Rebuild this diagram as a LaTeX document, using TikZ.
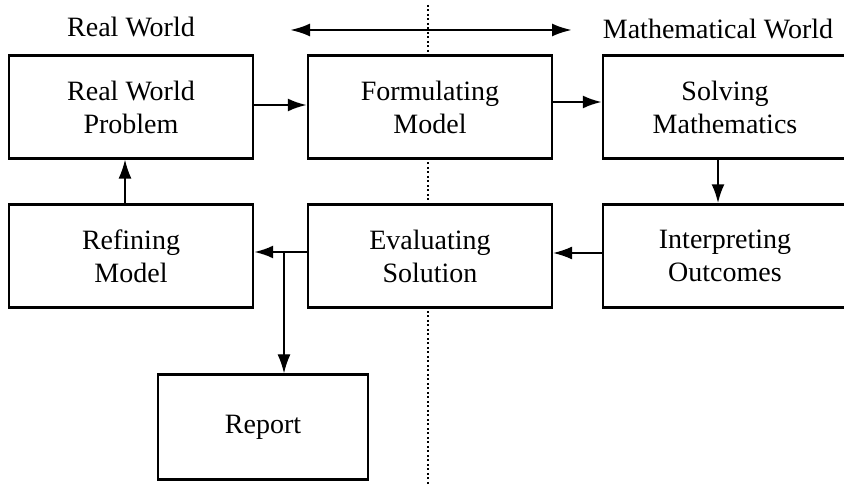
\documentclass[tikz,border=0pt]{standalone}
\usepackage{fontspec}
\setmainfont{Liberation Serif}
\usetikzlibrary{arrows.meta}
\begin{document}
\begin{tikzpicture}[x=1pt,y=-1pt,
  stagebox/.style={draw=black,line width=2.4pt,fill=white,minimum width=244pt,minimum height=103pt,align=center,font=\fontsize{28}{33}\selectfont,inner sep=0pt},
  conn/.style={line width=2.4pt,-{Latex[length=19pt,width=13pt]}},
  thinconn/.style={line width=1.4pt,-{Latex[length=19pt,width=13pt]}},
  lbl/.style={font=\fontsize{28}{33}\selectfont,inner sep=0pt}]
\useasboundingbox (0,0) rectangle (844,486);
\clip (0,0) rectangle (844,486);
\fill[white] (0,0) rectangle (844,486);
% dotted separator
\coordinate (dtop) at (428,5);
\coordinate (dbot) at (428,486);
\draw[line width=2.4pt,dash pattern=on 2pt off 2.5pt] (dtop) -- (dbot);
% header
\node[lbl] (rw) at (131,27) {Real World};
\node[lbl] (mw) at (718,29) {Mathematical World};
\coordinate (hl) at (290,30);
\coordinate (hr) at (572,30);
\draw[line width=2.6pt,{Latex[length=20pt,width=13pt]}-{Latex[length=20pt,width=13pt]}] (hl) -- (hr);
% boxes
\node[stagebox] (b1) at (131,107) {Real World\\Problem};
\node[stagebox] (b2) at (430,107) {Formulating\\Model};
\node[stagebox] (b3) at (725,107) {Solving\\Mathematics};
\node[stagebox] (b4) at (131,256) {Refining\\Model};
\node[stagebox] (b5) at (430,256) {Evaluating\\Solution};
\node[stagebox] (b6) at (725,256) {Interpreting\\Outcomes};
\node[stagebox,minimum width=210pt,minimum height=105pt] (rep) at (263,427) {Report};
% connectors
\draw[conn] (b1.east |- 0,105) -- (b2.west |- 0,105);
\draw[conn] (b2.east |- 0,102) -- (b3.west |- 0,102);
\draw[conn] (b3.south -| 718,0) -- (b6.north -| 718,0);
\draw[thinconn] (b6.west |- 0,253) -- (b5.east |- 0,253);
\draw[conn] (b5.west |- 0,252) -- (b4.east |- 0,252);
\coordinate (br) at (284,252);
\draw[thinconn] (br) -- (rep.north -| br);
\draw[thinconn] (b4.north -| 125,0) -- (b1.south -| 125,0);
\end{tikzpicture}
\end{document}
